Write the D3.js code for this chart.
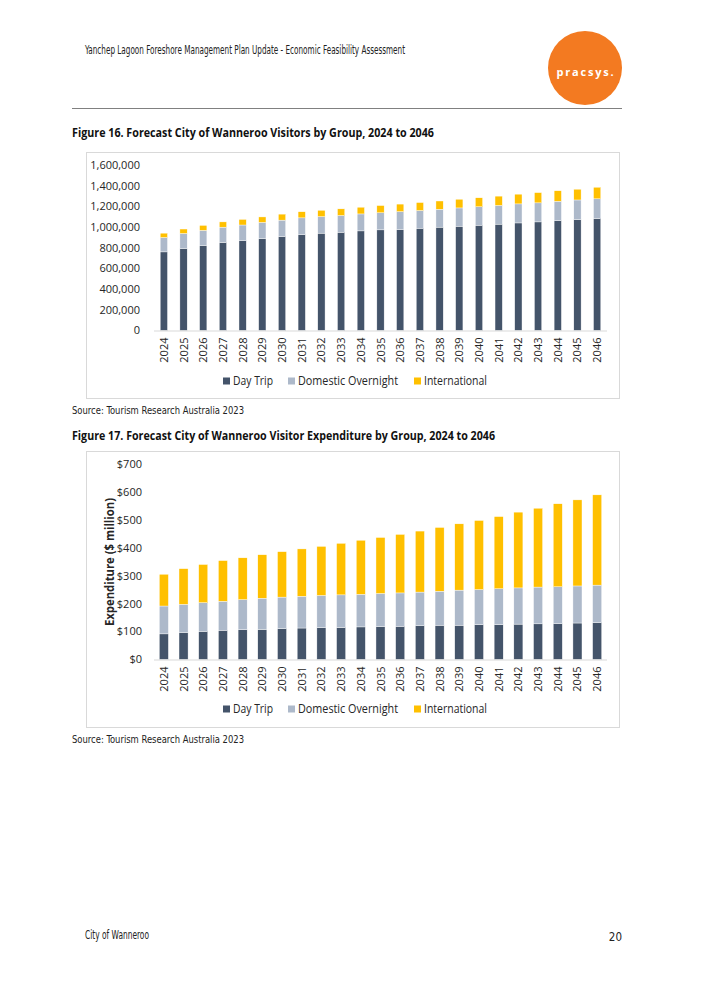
<!DOCTYPE html>
<html>
<head>
<meta charset="utf-8">
<script src="https://cdn.jsdelivr.net/npm/d3@7"></script>
<style>
  body { margin: 0; background: #fff; }
  svg { display: block; }
</style>
</head>
<body>
<svg id="page" width="705" height="998"></svg>
<script>
// data
let years = ["2024","2025","2026","2027","2028","2029","2030","2031","2032","2033","2034","2035",
             "2036","2037","2038","2039","2040","2041","2042","2043","2044","2045","2046"];
let groups = ["Day Trip", "Domestic Overnight", "International"];

let visitorsDayTrip = [760000,793000,822000,851000,870000,889000,909000,928000,941000,950000,963000,973000,
                       977000,989000,999000,1008000,1018000,1028000,1040000,1050000,1063000,1073000,1083000];
let visitorsDomestic = [139000,145000,146000,148000,150000,156000,158000,161000,160000,162000,164000,165000,
                        172000,171000,173000,177000,178000,181000,184000,184000,186000,189000,190000];
let visitorsIntl = [42000,43000,48000,51000,54000,53000,58000,59000,61000,64000,65000,70000,
                    73000,77000,80000,84000,87000,90000,94000,99000,102000,104000,112000];
let visitorTicks = [0,200000,400000,600000,800000,1000000,1200000,1400000,1600000];

let spendDayTrip = [92,97,101,105,107,108,111,113,114,115,117,118,119,121,123,123,125,125,127,128,129,131,132];
let spendDomestic = [100,101,103,104,108,112,113,114,116,117,117,119,120,121,122,126,126,129,130,132,132,133,135];
let spendIntl = [114,128,137,146,150,156,163,170,176,185,194,201,210,219,229,238,248,259,272,283,298,309,324];
let spendTicks = [0,100,200,300,400,500,600,700];

let colors = ["#44546A", "#ADB9CA", "#FFC000"];
let tickFont = "'Open Sans', 'Noto Sans', sans-serif";
let docFont = "'Liberation Sans Narrow', 'DejaVu Sans Condensed', 'Open Sans', sans-serif";

let svg = d3.select("#page");
svg.append("rect").attr("width", 705).attr("height", 998).attr("fill", "#fff");

// page header
svg.append("text")
  .attr("x", 85).attr("y", 54)
  .attr("font-family", docFont).attr("font-size", 11.5).attr("fill", "#222")
  .attr("textLength", 320).attr("lengthAdjust", "spacingAndGlyphs")
  .text("Yanchep Lagoon Foreshore Management Plan Update - Economic Feasibility Assessment");

svg.append("circle").attr("cx", 585).attr("cy", 68).attr("r", 37).attr("fill", "#F37A21");
svg.append("text")
  .attr("x", 586).attr("y", 76)
  .attr("text-anchor", "middle")
  .attr("font-family", tickFont).attr("font-weight", "bold").attr("font-size", 11)
  .attr("letter-spacing", 1.8).attr("fill", "#fff")
  .text("pracsys.");

svg.append("line")
  .attr("x1", 72).attr("x2", 622).attr("y1", 108.5).attr("y2", 108.5)
  .attr("stroke", "#808080").attr("stroke-width", 1);

// footer
svg.append("text")
  .attr("x", 85).attr("y", 939)
  .attr("font-family", docFont).attr("font-size", 11.5).attr("fill", "#222")
  .attr("textLength", 64).attr("lengthAdjust", "spacingAndGlyphs")
  .text("City of Wanneroo");
svg.append("text")
  .attr("x", 622).attr("y", 941).attr("text-anchor", "end")
  .attr("font-family", docFont).attr("font-size", 11.5).attr("fill", "#222")
  .text("20");

function caption(y, label, width) {
  svg.append("text")
    .attr("x", 72).attr("y", y)
    .attr("font-family", tickFont).attr("font-weight", "bold").attr("font-size", 12.5)
    .attr("fill", "#111")
    .attr("textLength", width).attr("lengthAdjust", "spacingAndGlyphs")
    .text(label);
}
function source(y) {
  svg.append("text")
    .attr("x", 72).attr("y", y)
    .attr("font-family", docFont).attr("font-size", 10).attr("fill", "#222")
    .attr("textLength", 172).attr("lengthAdjust", "spacingAndGlyphs")
    .text("Source: Tourism Research Australia 2023");
}

drawChart = function(opt) {
  // frame
  svg.append("rect")
    .attr("x", 86.5).attr("y", opt.frameTop + 0.5)
    .attr("width", 533).attr("height", opt.frameBottom - opt.frameTop)
    .attr("fill", "#fff").attr("stroke", "#D9D9D9");

  let x = d3.scaleBand().domain(years).range([154, 607])
    .paddingInner(opt.gap).paddingOuter(opt.gap / 2);
  let y = d3.scaleLinear().domain([0, d3.max(opt.ticks)]).range([opt.base, opt.top]);

  let table = years.map((yr, i) => ({
    year: yr, "Day Trip": opt.series[0][i], "Domestic Overnight": opt.series[1][i], "International": opt.series[2][i]
  }));
  let stacked = d3.stack().keys(groups)(table);

  let g = svg.append("g");
  g.selectAll("g.layer")
    .data(stacked)
    .enter().append("g")
    .attr("class", "layer")
    .attr("fill", (d, i) => colors[i])
    .selectAll("rect")
    .data(d => d)
    .enter().append("rect")
    .attr("x", d => x(d.data.year))
    .attr("width", x.bandwidth())
    .attr("y", d => y(d[1]))
    .attr("height", d => y(d[0]) - y(d[1]))
    .attr("stroke", "#fff").attr("stroke-width", 0.4);

  // baseline
  g.append("line")
    .attr("x1", 154).attr("x2", 607)
    .attr("y1", opt.base + 0.5).attr("y2", opt.base + 0.5)
    .attr("stroke", "#D9D9D9").attr("stroke-width", 1.2);

  // y tick labels
  g.selectAll("text.ytick")
    .data(opt.ticks)
    .enter().append("text")
    .attr("class", "ytick")
    .attr("x", opt.labelRight)
    .attr("y", d => y(d))
    .attr("dy", "0.35em")
    .attr("text-anchor", "end")
    .attr("font-family", tickFont).attr("font-size", 11).attr("fill", "#262626")
    .text(opt.fmt);

  // year labels
  g.selectAll("text.xtick")
    .data(years)
    .enter().append("text")
    .attr("class", "xtick")
    .attr("transform", d => "translate(" + (x(d) + x.bandwidth() / 2 + 4) + "," + (opt.base + 7) + ") rotate(-90)")
    .attr("text-anchor", "end")
    .attr("font-family", tickFont).attr("font-size", 11).attr("fill", "#262626")
    .text(d => d);

  // legend
  let legendX = [223, 288, 414];
  let legendW = [40, 100, 63];
  for (let j = 0; j < groups.length; j++) {
    g.append("rect")
      .attr("x", legendX[j]).attr("y", opt.legendY - 3.5)
      .attr("width", 7).attr("height", 7)
      .attr("fill", colors[j]);
    g.append("text")
      .attr("x", legendX[j] + 10).attr("y", opt.legendY)
      .attr("dy", "0.35em")
      .attr("font-family", tickFont).attr("font-size", 12).attr("fill", "#262626")
      .attr("textLength", legendW[j]).attr("lengthAdjust", "spacingAndGlyphs")
      .text(groups[j]);
  }

  if (opt.yTitle) {
    g.append("text")
      .attr("transform", "translate(" + opt.yTitleX + "," + ((opt.base + opt.top) / 2) + ") rotate(-90)")
      .attr("text-anchor", "middle")
      .attr("dy", "0.35em")
      .attr("font-family", tickFont).attr("font-weight", "bold").attr("font-size", 11.5)
      .attr("fill", "#262626")
      .attr("textLength", 128).attr("lengthAdjust", "spacingAndGlyphs")
      .text(opt.yTitle);
  }
}

caption(137, "Figure 16. Forecast City of Wanneroo Visitors by Group, 2024 to 2046", 362);
drawChart({
  frameTop: 152, frameBottom: 398,
  base: 330.5, top: 165,
  ticks: visitorTicks,
  series: [visitorsDayTrip, visitorsDomestic, visitorsIntl],
  gap: 0.63,
  labelRight: 140,
  fmt: d3.format(","),
  legendY: 381
});
source(414);

caption(440, "Figure 17. Forecast City of Wanneroo Visitor Expenditure by Group, 2024 to 2046", 423);
drawChart({
  frameTop: 451, frameBottom: 727,
  base: 659.5, top: 464.5,
  ticks: spendTicks,
  series: [spendDayTrip, spendDomestic, spendIntl],
  gap: 0.54,
  labelRight: 142,
  fmt: d => "$" + d,
  legendY: 709,
  yTitle: "Expenditure ($ million)",
  yTitleX: 110
});
source(743);
</script>
</body>
</html>
